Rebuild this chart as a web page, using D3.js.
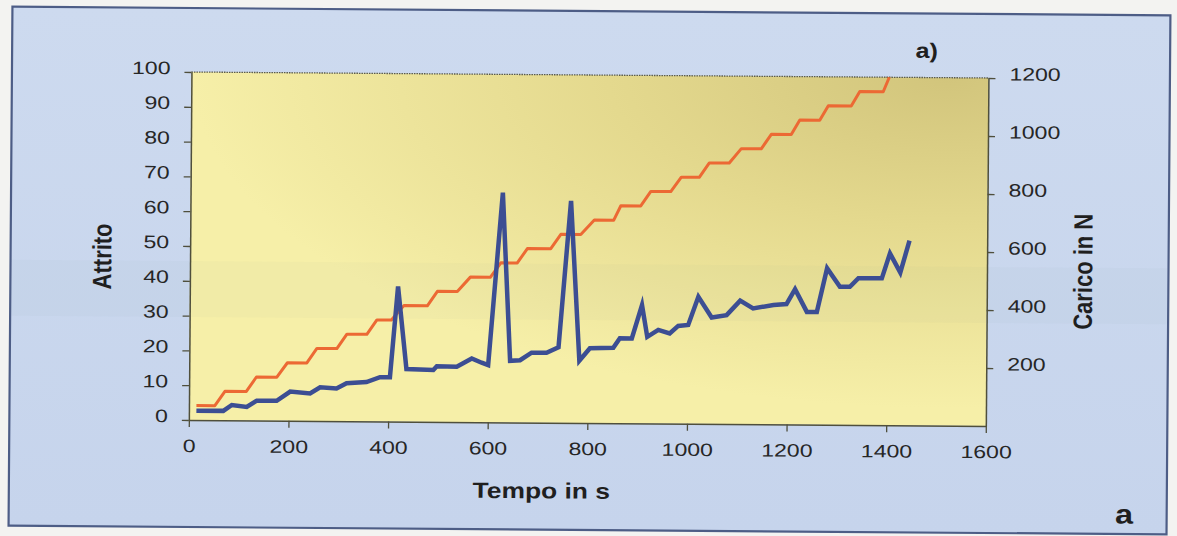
<!DOCTYPE html>
<html>
<head>
<meta charset="utf-8">
<script src="https://cdn.jsdelivr.net/npm/d3@7"></script>
<style>
  html, body { margin: 0; padding: 0; background: #f3f3f1; }
  svg { display: block; }
</style>
</head>
<body>
<svg id="chart" width="1177" height="536"></svg>
<script>
// Tempo (s) and Attrito, blue line, left axis
const frictionTime = [15, 69, 86, 116, 136, 176, 203, 243, 263, 296, 316, 356, 383, 403, 418, 436, 490, 497, 537, 567, 587, 600, 627, 644, 664, 687, 717, 741, 764, 783, 804, 851, 864, 888, 908, 919, 941, 964, 981, 1001, 1021, 1048, 1078, 1105, 1131, 1172, 1198, 1215, 1239, 1259, 1279, 1305, 1325, 1342, 1389, 1405, 1426, 1444];
const frictionValue = [2.7, 2.7, 4.4, 3.9, 5.7, 5.7, 8.4, 7.9, 9.7, 9.4, 10.9, 11.3, 12.7, 12.7, 38.8, 15.1, 14.9, 16.0, 15.9, 18.3, 17.1, 16.4, 66.0, 17.7, 17.9, 20.1, 20.1, 21.7, 63.8, 17.9, 21.5, 21.7, 24.4, 24.4, 34.0, 24.9, 26.9, 25.9, 28.1, 28.4, 36.5, 30.6, 31.3, 35.5, 33.3, 34.3, 34.6, 38.9, 32.4, 32.4, 45.0, 39.7, 39.7, 42.2, 42.2, 49.4, 43.9, 53.1];

// Tempo (s) and Carico in N, orange staircase, right axis
const loadTime = [15, 52, 72, 115, 135, 176, 197, 236, 256, 296, 316, 356, 376, 405, 430, 477, 497, 537, 563, 603, 624, 657, 677, 724, 744, 784, 811, 850, 864, 904, 924, 964, 985, 1021, 1041, 1081, 1105, 1145, 1165, 1205, 1222, 1262, 1279, 1325, 1342, 1389, 1401];
const loadValue = [50, 50, 100, 100, 150, 150, 200, 200, 250, 250, 300, 300, 350, 350, 400, 400, 450, 450, 500, 500, 550, 550, 600, 600, 650, 650, 700, 700, 750, 750, 800, 800, 850, 850, 900, 900, 950, 950, 1000, 1000, 1050, 1050, 1100, 1100, 1150, 1150, 1200];

const timeTicks = [0, 200, 400, 600, 800, 1000, 1200, 1400, 1600];
const frictionTicks = [0, 10, 20, 30, 40, 50, 60, 70, 80, 90, 100];
const loadTicks = [200, 400, 600, 800, 1000, 1200];

const width = 1177, height = 536;
const plot = { left: 190, right: 987, top: 75, bottom: 423 };
const stretch = 1.28; // the scan is wider than tall

const svg = d3.select("#chart");
const defs = svg.append("defs");

const bgGrad = defs.append("linearGradient").attr("id", "bg").attr("x1", 0).attr("y1", 0).attr("x2", 0).attr("y2", 1);
bgGrad.append("stop").attr("offset", 0).attr("stop-color", "#cddaef");
bgGrad.append("stop").attr("offset", 1).attr("stop-color", "#c6d4ec");

const plotGrad = defs.append("radialGradient").attr("id", "plotbg")
  .attr("cx", "95%").attr("cy", "0%").attr("r", "95%");
plotGrad.append("stop").attr("offset", 0).attr("stop-color", "#d2c57c");
plotGrad.append("stop").attr("offset", 0.45).attr("stop-color", "#e4d98e");
plotGrad.append("stop").attr("offset", 1).attr("stop-color", "#f6efa8");

// the whole page sits slightly tilted on the scan
const g = svg.append("g").attr("transform", "rotate(0.43, 588, 268)");

// outer panel
g.append("rect")
  .attr("x", 10.5).attr("y", 11)
  .attr("width", 1158).attr("height", 519)
  .attr("fill", "url(#bg)")
  .attr("stroke", "#4d5d86")
  .attr("stroke-width", 2.2);

// plot area
g.append("rect")
  .attr("x", plot.left).attr("y", plot.top)
  .attr("width", plot.right - plot.left).attr("height", plot.bottom - plot.top)
  .attr("fill", "url(#plotbg)");

// faint greyish scanner band
g.append("rect")
  .attr("x", 11.5).attr("y", 264).attr("width", 1156).attr("height", 56)
  .attr("fill", "#7f8a80").attr("opacity", 0.035);

// top border of plot, dotted
g.append("line")
  .attr("x1", plot.left).attr("x2", plot.right)
  .attr("y1", plot.top).attr("y2", plot.top)
  .attr("stroke", "#5a5a4a").attr("stroke-width", 1.3)
  .attr("stroke-dasharray", "1.5 1");

// Scales
const x = d3.scaleLinear().domain([0, 1600]).range([plot.left, plot.right]);
const yL = d3.scaleLinear().domain([0, 100]).range([plot.bottom, plot.top]);
const yR = d3.scaleLinear().domain([0, 1200]).range([plot.bottom, plot.top]);
const fmt = d3.format("d");

function styleAxis(sel) {
  sel.select(".domain").attr("stroke", "#4f4f3c").attr("stroke-width", 1.5);
  sel.selectAll(".tick line").attr("stroke", "#4f4f3c").attr("stroke-width", 1.3);
  sel.selectAll(".tick text")
    .attr("fill", "#262626")
    .style("font-family", "'Liberation Sans', Arial, sans-serif")
    .style("font-size", "18px");
}

// Axes
const axL = g.append("g")
  .attr("transform", `translate(${plot.left},0)`)
  .call(d3.axisLeft(yL).tickValues(frictionTicks).tickFormat(fmt).tickSize(7).tickSizeOuter(0));
styleAxis(axL);
axL.selectAll(".tick text")
  .attr("x", null).attr("dy", "0.1em")
  .attr("transform", `translate(-21,0) scale(${stretch},1)`);

const axR = g.append("g")
  .attr("transform", `translate(${plot.right},0)`)
  .call(d3.axisRight(yR).tickValues(loadTicks).tickFormat(fmt).tickSize(7).tickSizeOuter(0));
styleAxis(axR);
axR.selectAll(".tick text")
  .attr("x", null).attr("dy", "0.1em")
  .attr("transform", `translate(21,0) scale(${stretch},1)`);

const axB = g.append("g")
  .attr("transform", `translate(0,${plot.bottom})`)
  .call(d3.axisBottom(x).tickValues(timeTicks).tickFormat(fmt).tickSize(7).tickSizeOuter(0));
styleAxis(axB);
axB.selectAll(".tick text")
  .attr("y", null).attr("dy", "0.34em")
  .attr("transform", `translate(0,26) scale(${stretch},1)`);

// Lines
const loadLine = d3.line()
  .x((d, i) => x(loadTime[i]))
  .y(d => yR(d));

const frictionLine = d3.line()
  .x((d, i) => x(frictionTime[i]))
  .y(d => yL(d));

g.append("path")
  .datum(loadValue)
  .attr("fill", "none")
  .attr("stroke", "#ec6934")
  .attr("stroke-width", 3)
  .attr("stroke-linejoin", "round")
  .attr("d", loadLine);

g.append("path")
  .datum(frictionValue)
  .attr("fill", "none")
  .attr("stroke", "#3c4e93")
  .attr("stroke-width", 4.5)
  .attr("stroke-linejoin", "miter")
  .attr("stroke-miterlimit", 10)
  .attr("d", frictionLine);

// Titles
function label(txt, px, py, size, rot) {
  g.append("text")
    .attr("transform", `translate(${px},${py}) rotate(${rot || 0}) scale(${rot ? 1 : 1.2},${rot ? 1.2 : 1})`)
    .attr("text-anchor", "middle")
    .attr("dy", "0.35em")
    .attr("fill", "#1f1f1f")
    .style("font-family", "'Liberation Sans', Arial, sans-serif")
    .style("font-weight", "bold")
    .style("font-size", size + "px")
    .text(txt);
}

label("Attrito", 102, 260, 22, -90);
label("Carico in N", 1083, 268, 22, -90);
label("Tempo in s", 543, 491, 22);
label("a)", 925, 48, 21);
label("a", 1126, 510, 27);
</script>
</body>
</html>
